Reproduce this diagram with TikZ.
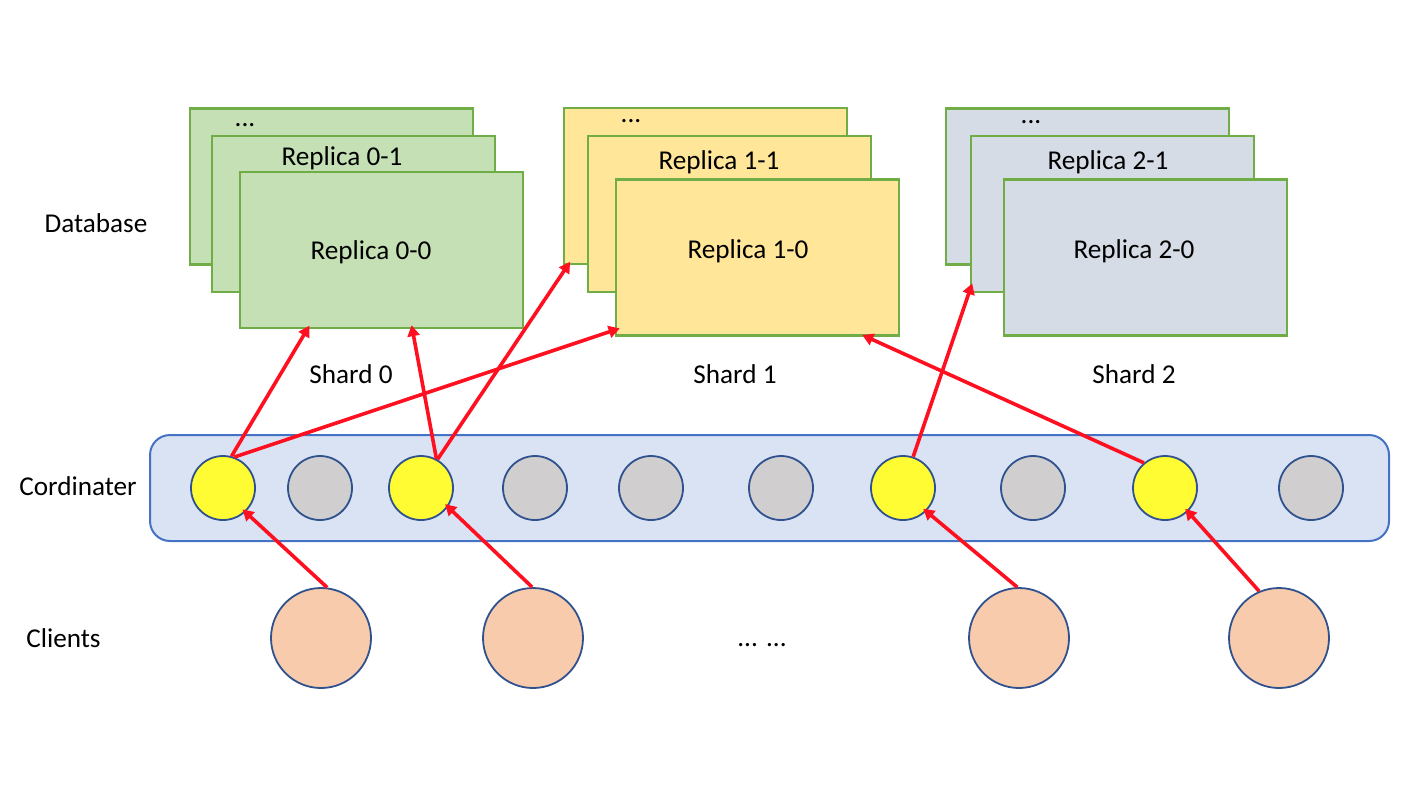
\documentclass[tikz,border=0pt]{standalone}
\usepackage{fontspec}
\setmainfont{Carlito}
\usetikzlibrary{calc,arrows.meta}
\definecolor{gfill}{HTML}{C5E0B4}
\definecolor{yfill}{HTML}{FFE699}
\definecolor{sfill}{HTML}{D6DCE5}
\definecolor{bord}{HTML}{70AD47}
\definecolor{barfill}{HTML}{DAE3F3}
\definecolor{barbord}{HTML}{4472C4}
\definecolor{cbord}{HTML}{2F528F}
\definecolor{cyel}{HTML}{FFFC33}
\definecolor{cgray}{HTML}{D0CECE}
\definecolor{cli}{HTML}{F8CBAD}
\definecolor{arr}{RGB}{255,16,32}
\tikzset{
  rbox/.style={draw=bord, line width=1.1pt, minimum width=141.5pt, minimum height=78pt, inner sep=0pt},
  txt/.style={anchor=base, inner sep=0pt, font=\fontsize{13.6}{16}\selectfont},
  coord/.style={circle, draw=cbord, line width=0.9pt, minimum size=32pt, inner sep=0pt},
  client/.style={circle, draw=cbord, fill=cli, line width=0.9pt, minimum size=50pt, inner sep=0pt},
  ar/.style={draw=arr, line width=1.8pt, -{Triangle[length=5.5pt,width=6pt]}, shorten >=-2pt}
}
\begin{document}
\begin{tikzpicture}[x=0.5pt,y=-0.5pt]
\useasboundingbox (0,0) rectangle (1422,794);
% green stack
\node[rbox, fill=gfill] (g2) at (331.5,186.5) {};
\node[rbox, fill=gfill] (g1) at (353.5,214) {};
\node[rbox, fill=gfill] (g0) at (381.5,250) {};
% yellow stack
\node[rbox, fill=yfill] (y2) at (705.5,186) {};
\node[rbox, fill=yfill] (y1) at (729.5,214) {};
\node[rbox, fill=yfill] (y0) at (757.5,257.5) {};
% gray stack
\node[rbox, fill=sfill] (s2) at (1087.5,186.5) {};
\node[rbox, fill=sfill] (s1) at (1112.5,214) {};
\node[rbox, fill=sfill] (s0) at (1145.5,257.5) {};
% texts
\node[txt] (gd) at (245,126) {...};
\node[txt] (yd) at (631,122) {...};
\node[txt] (sd) at (1031,123) {...};
\node[txt] (gt1) at (342,165) {Replica 0-1};
\node[txt] (gt0) at (371,259) {Replica 0-0};
\node[txt] (yt1) at (719,169) {Replica 1-1};
\node[txt] (yt0) at (748,258) {Replica 1-0};
\node[txt] (st1) at (1108,169) {Replica 2-1};
\node[txt] (st0) at (1134,258) {Replica 2-0};
\node[txt] (sh0) at (351,383) {Shard 0};
\node[txt] (sh1) at (735,383) {Shard 1};
\node[txt] (sh2) at (1134,383) {Shard 2};
\node[txt] (ldb) at (96,232) {Database};
\node[txt] (lco) at (78,495) {Cordinater};
\node[txt] (lcl) at (63.5,647) {Clients};
\node[txt] (ldots) at (762,646) {... ...};
% coordinator bar
\node[draw=barbord, fill=barfill, line width=1pt, rounded corners=10pt, minimum width=619.5pt, minimum height=53pt, inner sep=0pt] (bar) at (769.5,488) {};
\node[coord, fill=cyel] (c1) at (223,488) {};
\node[coord, fill=cgray] (c2) at (320,488) {};
\node[coord, fill=cyel] (c3) at (421,488) {};
\node[coord, fill=cgray] (c4) at (535,488) {};
\node[coord, fill=cgray] (c5) at (651,488) {};
\node[coord, fill=cgray] (c6) at (781,488) {};
\node[coord, fill=cyel] (c7) at (903,488) {};
\node[coord, fill=cgray] (c8) at (1033,488) {};
\node[coord, fill=cyel] (c9) at (1165,488) {};
\node[coord, fill=cgray] (c10) at (1311,488) {};
% clients
\node[client] (k1) at (321,638) {};
\node[client] (k2) at (533,638) {};
\node[client] (k3) at (1019,638) {};
\node[client] (k4) at (1279,638) {};
% arrows
\draw[ar] (c1.75) -- ($(g0.south west)!0.24!(g0.south east)$);
\draw[ar] (c1.70) -- ($(y0.south west)+(1,-7)$);
\draw[ar] (c3.62) -- ($(g0.south west)!0.608!(g0.south east)$);
\draw[ar] (c3.60) -- ($(y2.south west)+(5,0)$);
\draw[ar] (c7.72) -- ($(s1.south west)+(1,-6)$);
\draw[ar] (c9.130) -- ($(y0.south west)!0.88!(y0.south east)$);
\draw[ar] (k1.83) -- (c1.-47);
\draw[ar] (k2.91) -- (c3.-35);
\draw[ar] (k3.92) -- (c7.-45);
\draw[ar] (k4.113) -- (c9.-46);
\end{tikzpicture}
\end{document}
